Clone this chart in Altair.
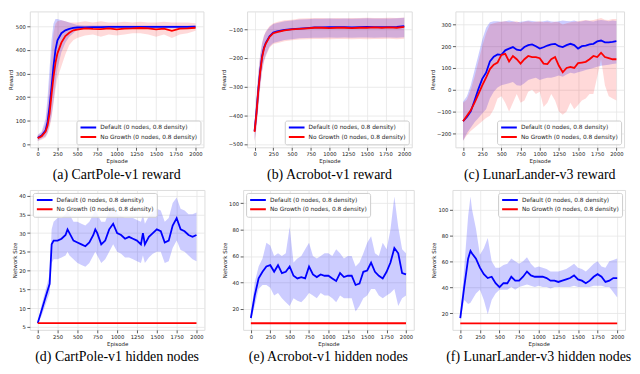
import altair as alt
import pandas as pd

BLUE = "#0000ff"
RED = "#ff0000"
S_DEF = "Default (0 nodes, 0.8 density)"
S_NG = "No Growth (0 nodes, 0.8 density)"

X_TICKS = [0, 250, 500, 750, 1000, 1250, 1500, 1750, 2000]

# ---------------- (a) CartPole-v1 reward ----------------
a_ep = [0, 50, 100, 125, 150, 175, 200, 225, 250, 300, 350, 400, 450, 500, 600, 700, 800,
        900, 1000, 1100, 1200, 1300, 1400, 1500, 1600, 1700, 1800, 1900, 2000]
a_def_mean = [28, 38, 60, 95, 160, 240, 330, 400, 440, 470, 482, 488, 492, 494, 495, 496, 496,
              497, 497, 497, 497, 497, 497, 497, 497, 497, 497, 497, 498]
a_def_lo = [15, 25, 35, 50, 80, 120, 180, 250, 320, 390, 430, 455, 470, 485, 488, 490, 490,
            490, 491, 491, 491, 491, 491, 491, 491, 491, 491, 492, 492]
a_def_hi = [40, 55, 110, 200, 320, 440, 510, 530, 530, 525, 520, 515, 510, 505, 503, 503, 503,
            503, 503, 503, 503, 503, 503, 503, 503, 503, 503, 503, 504]
a_ng_mean = [27, 35, 55, 80, 130, 210, 285, 345, 385, 430, 458, 472, 482, 485, 490, 488, 487,
             490, 486, 489, 490, 492, 490, 486, 489, 480, 489, 490, 493]
a_ng_lo = [15, 20, 30, 45, 70, 110, 170, 230, 280, 330, 380, 420, 440, 450, 460, 465, 455,
           465, 460, 465, 470, 470, 465, 455, 465, 450, 465, 470, 480]
a_ng_hi = [40, 50, 90, 160, 260, 380, 470, 510, 520, 525, 520, 515, 515, 515, 520, 515, 520,
           515, 515, 518, 515, 518, 515, 515, 518, 515, 515, 515, 512]

# ---------------- (b) Acrobot-v1 reward ----------------
b_ep = [0, 25, 50, 75, 100, 125, 150, 200, 250, 300, 400, 500, 600, 700, 800, 900, 1000,
        1100, 1200, 1300, 1400, 1500, 1600, 1700, 1800, 1900, 2000]
b_def_mean = [-455, -390, -310, -245, -195, -165, -148, -125, -112, -108, -102, -100, -98, -96,
              -94, -94, -93, -93, -93, -94, -93, -92, -93, -93, -93, -92, -89]
b_def_lo = [-490, -440, -370, -300, -245, -210, -190, -160, -148, -145, -138, -135, -132, -131,
            -130, -130, -129, -130, -129, -130, -129, -129, -130, -129, -129, -130, -128]
b_def_hi = [-425, -340, -255, -190, -150, -125, -110, -92, -82, -78, -72, -70, -66, -65, -64,
            -64, -63, -64, -63, -64, -63, -62, -63, -63, -63, -62, -60]
b_ng_mean = [-458, -395, -315, -250, -200, -168, -150, -127, -114, -110, -104, -101, -99, -97,
             -95, -95, -96, -95, -95, -96, -95, -95, -94, -95, -94, -95, -92]
b_ng_lo = [-494, -445, -375, -305, -250, -215, -195, -165, -152, -149, -142, -139, -136, -135,
           -134, -134, -135, -134, -134, -135, -134, -135, -134, -134, -133, -135, -133]
b_ng_hi = [-422, -337, -252, -187, -147, -122, -107, -89, -79, -75, -69, -67, -63, -62, -61,
           -61, -62, -61, -62, -61, -61, -60, -61, -61, -60, -61, -59]

# ---------------- (c) LunarLander-v3 reward ----------------
c_ep = [0, 50, 100, 150, 200, 250, 300, 350, 400, 450, 500, 550, 600, 650, 700, 750, 800, 850,
        900, 950, 1000, 1050, 1100, 1150, 1200, 1250, 1300, 1350, 1400, 1450, 1500, 1550, 1600,
        1650, 1700, 1750, 1800, 1850, 1900, 1950, 2000]
c_def_mean = [-145, -125, -100, -50, 3, 50, 78, 130, 152, 162, 160, 181, 189, 196, 184, 181, 196,
              205, 208, 200, 189, 195, 203, 208, 211, 200, 196, 205, 211, 205, 189, 200, 203,
              208, 211, 222, 226, 218, 218, 220, 223]
c_def_lo = [-235, -200, -175, -150, -130, -110, -90, -40, -10, 10, 20, 25, 30, 35, 20, 18, 30,
            45, 50, 55, 45, 50, 55, 55, 60, 65, 60, 70, 78, 75, 80, 85, 90, 95, 100, 105, 110,
            112, 115, 118, 120]
c_def_hi = [-55, -30, 20, 90, 160, 230, 285, 310, 315, 315, 312, 315, 318, 315, 310, 312, 315,
            318, 316, 314, 312, 315, 318, 314, 312, 315, 318, 316, 315, 318, 312, 315, 318, 316,
            314, 318, 320, 318, 315, 318, 316]
c_ng_mean = [-145, -120, -95, -60, -20, 20, 55, 95, 115, 125, 160, 165, 130, 155, 140, 120, 140,
             155, 150, 150, 145, 120, 118, 140, 150, 110, 80, 100, 105, 100, 122, 125, 128, 140,
             155, 150, 170, 150, 145, 140, 140]
c_ng_lo = [-235, -210, -190, -175, -160, -145, -130, -120, -90, -40, -30, -60, -100, -60, -20,
           -60, -50, -10, 0, -20, -10, -80, -60, -20, -50, -100, -115, -100, -60, -90, -70, -50,
           -40, -20, -20, 60, 140, 20, -30, -40, -50]
c_ng_hi = [-60, -45, 0, 60, 130, 200, 260, 300, 305, 310, 312, 315, 310, 312, 315, 308, 312, 315,
           310, 312, 315, 310, 312, 308, 312, 310, 300, 305, 310, 312, 315, 318, 320, 318, 320,
           325, 330, 322, 320, 325, 325]

# ---------------- (d) CartPole-v1 hidden nodes ----------------
d_ep = [0, 50, 100, 150, 175, 200, 250, 300, 350, 375, 400, 450, 500, 550, 600, 650, 700, 725,
        750, 800, 850, 900, 950, 1000, 1050, 1100, 1150, 1200, 1250, 1300, 1325, 1350, 1400,
        1450, 1500, 1550, 1600, 1650, 1700, 1750, 1800, 1850, 1900, 1950, 2000]
d_def_mean = [6, 9.5, 13, 16.5, 27, 28, 28, 28.5, 29.5, 31, 30, 28, 27.5, 27, 26.5, 27.5, 29.5,
              31, 30, 27, 28, 31, 32.5, 30, 29.5, 28.5, 29, 28.5, 28, 27, 30, 27, 29, 30, 31,
              30.5, 27.5, 28, 32, 34, 31, 30.5, 29.5, 29, 29.5]
d_def_lo = [5.8, 8, 11, 14, 22, 23, 23, 23.5, 24, 25, 24, 23, 22, 21.5, 21, 22, 24, 25, 24, 22,
            23, 25, 27, 25, 24.5, 23.5, 23.5, 23, 22.5, 22, 24, 22, 23.5, 24.5, 25, 25, 22,
            22.5, 26, 28, 25.5, 25, 24, 23, 22.5]
d_def_hi = [6.2, 11, 15, 19, 31, 33, 34, 34, 35, 36, 35, 33, 33, 32.5, 32, 33, 35, 36, 35, 33,
            33, 36, 37.5, 35, 34.5, 34, 34, 34, 33.5, 33, 35, 32.5, 34.5, 35.5, 36.5, 36, 33,
            34, 38, 39.5, 36.5, 36, 35, 35, 35.5]
d_ng_ep = [0, 2000]
d_ng_mean = [6, 6]

# ---------------- (e) Acrobot-v1 hidden nodes ----------------
e_ep = [0, 50, 100, 150, 200, 250, 300, 350, 400, 450, 500, 550, 600, 650, 700, 750, 800, 850,
        900, 950, 1000, 1050, 1100, 1150, 1200, 1250, 1300, 1350, 1400, 1450, 1500, 1550, 1600,
        1650, 1700, 1750, 1800, 1850, 1900, 1950, 2000]
e_def_mean = [13, 30, 43, 48, 52, 53, 48, 53, 47, 48, 52, 45, 43, 44, 43, 52, 46, 44, 46, 45,
              45, 43, 41, 47, 44, 45, 45, 38, 39, 48, 49, 55, 48, 45, 43, 48, 55, 66, 62, 47, 46]
e_def_lo = [11, 22, 35, 38, 38, 36, 30, 32, 28, 25, 22, 28, 26, 25, 28, 32, 30, 28, 32, 30, 30,
            28, 25, 30, 28, 28, 28, 18, 22, 28, 30, 35, 35, 30, 28, 30, 32, 35, 22, 28, 30]
e_def_hi = [15, 40, 52, 58, 70, 68, 60, 62, 60, 62, 82, 55, 58, 60, 65, 70, 60, 58, 60, 62, 62,
            60, 65, 62, 58, 60, 60, 52, 55, 62, 70, 75, 62, 60, 70, 65, 80, 105, 82, 65, 62]
e_ng_ep = [0, 2000]
e_ng_mean = [9, 9]

# ---------------- (f) LunarLander-v3 hidden nodes ----------------
f_ep = [0, 50, 100, 130, 150, 200, 250, 300, 350, 400, 450, 500, 550, 600, 650, 700, 750, 800,
        850, 900, 950, 1000, 1050, 1100, 1150, 1200, 1250, 1300, 1350, 1400, 1450, 1500, 1550,
        1600, 1650, 1700, 1750, 1800, 1850, 1900, 1950, 2000]
f_def_mean = [16, 40, 62, 68, 66, 62, 55, 50, 47, 48, 43, 40, 43, 43, 48, 45, 45, 48, 52, 49, 48,
              48, 48, 47, 45, 45, 44, 45, 46, 47, 49, 46, 45, 43, 45, 48, 50, 48, 44, 45, 47, 47]
f_def_lo = [14, 30, 27, 28, 30, 35, 38, 30, 19, 30, 35, 38, 38, 38, 40, 38, 40, 41, 42, 41, 40,
            41, 40, 40, 39, 40, 40, 40, 40, 40, 41, 40, 40, 40, 40, 41, 41, 41, 40, 40, 36, 32]
f_def_hi = [18, 55, 95, 110, 100, 85, 65, 70, 78, 60, 55, 55, 57, 58, 62, 60, 58, 60, 63, 58, 55,
            56, 55, 54, 52, 52, 52, 53, 54, 56, 58, 55, 54, 52, 55, 58, 60, 56, 55, 60, 61, 62]
f_ng_ep = [0, 2000]
f_ng_mean = [12, 12]

LAB = dict(labelFont="DejaVu Sans", labelFontSize=5.3, labelColor="#222222",
           titleFont="DejaVu Sans", titleFontSize=5.5, titleFontWeight="normal",
           titleColor="#222222", tickColor="#333333", tickSize=3, tickWidth=0.8,
           labelPadding=1.5, titlePadding=1.5, domain=False, grid=True,
           gridColor="#e6e6e6", gridWidth=0.8)


def frame(ep, mean, lo, hi, series):
    return pd.DataFrame({"episode": ep, "mean": mean, "lo": lo, "hi": hi, "series": series})


def panel(df_def, df_ng, ydomain, yticks, ytitle, caption, width, height, lorient, ng_band=True):
    xenc = alt.X("episode:Q", scale=alt.Scale(domain=[-100, 2100], nice=False, zero=False),
                 axis=alt.Axis(values=X_TICKS, format="d", title="Episode", **LAB))
    yscale = alt.Scale(domain=ydomain, nice=False, zero=False)
    yaxis = alt.Axis(values=yticks, format="d", title=ytitle, **LAB)
    layers = [
        alt.Chart(df_def).mark_area(color=BLUE, opacity=0.2).encode(
            x=xenc, y=alt.Y("lo:Q", scale=yscale, axis=yaxis), y2="hi:Q"),
    ]
    if ng_band:
        layers.append(alt.Chart(df_ng).mark_area(color=RED, opacity=0.15).encode(
            x=xenc, y=alt.Y("lo:Q", scale=yscale, axis=yaxis), y2="hi:Q"))
    both = pd.concat([df_def, df_ng], ignore_index=True)
    layers.append(alt.Chart(both).mark_line(strokeWidth=1.8).encode(
        x=xenc,
        y=alt.Y("mean:Q", scale=yscale, axis=yaxis),
        color=alt.Color("series:N", scale=alt.Scale(domain=[S_DEF, S_NG], range=[BLUE, RED]),
                        legend=alt.Legend(title=None, orient=lorient, offset=3,
                                          fillColor="rgba(255,255,255,0.85)",
                                          strokeColor="#cccccc", cornerRadius=2, padding=3,
                                          labelFontSize=5.9, labelFont="DejaVu Sans",
                                          labelColor="#222222", symbolType="stroke",
                                          symbolSize=250, symbolStrokeWidth=2, rowPadding=1.5,
                                          clipHeight=8, labelOffset=3)),
    ))
    return alt.layer(*layers).properties(
        width=width, height=height,
        title=alt.TitleParams(caption, orient="bottom", anchor="middle", frame="group",
                              font="Liberation Serif", fontSize=14, fontWeight="normal",
                              color="#000000", offset=4),
    )


pa = panel(frame(a_ep, a_def_mean, a_def_lo, a_def_hi, S_DEF),
           frame(a_ep, a_ng_mean, a_ng_lo, a_ng_hi, S_NG),
           [-12, 562], [0, 100, 200, 300, 400, 500], "Reward", "(a) CartPole-v1 reward",
           175, 137, "bottom-right")
pb = panel(frame(b_ep, b_def_mean, b_def_lo, b_def_hi, S_DEF),
           frame(b_ep, b_ng_mean, b_ng_lo, b_ng_hi, S_NG),
           [-512, -38], [-500, -400, -300, -200, -100], "Reward", "(b) Acrobot-v1  reward",
           166, 137, "bottom-right")
pc = panel(frame(c_ep, c_def_mean, c_def_lo, c_def_hi, S_DEF),
           frame(c_ep, c_ng_mean, c_ng_lo, c_ng_hi, S_NG),
           [-265, 360], [-200, -100, 0, 100, 200, 300], "Reward", "(c) LunarLander-v3 reward",
           170, 137, "bottom-right")
pd_ = panel(frame(d_ep, d_def_mean, d_def_lo, d_def_hi, S_DEF),
            frame(d_ng_ep, d_ng_mean, d_ng_mean, d_ng_mean, S_NG),
            [4.2, 41.5], [5, 10, 15, 20, 25, 30, 35, 40], "Network Size",
            "(d) CartPole-v1 hidden nodes", 176, 141, "top-left", ng_band=False)
pe = panel(frame(e_ep, e_def_mean, e_def_lo, e_def_hi, S_DEF),
           frame(e_ng_ep, e_ng_mean, e_ng_mean, e_ng_mean, S_NG),
           [4, 110], [20, 40, 60, 80, 100], "Network Size",
           "(e) Acrobot-v1 hidden nodes", 172, 141, "top-left", ng_band=False)
pf = panel(frame(f_ep, f_def_mean, f_def_lo, f_def_hi, S_DEF),
           frame(f_ng_ep, f_ng_mean, f_ng_mean, f_ng_mean, S_NG),
           [7, 115], [20, 40, 60, 80, 100], "Network Size",
           "(f) LunarLander-v3 hidden nodes", 174, 141, "top-right", ng_band=False)

row1 = alt.hconcat(pa, pb, pc, spacing=16).resolve_scale(color="independent").resolve_legend(color="independent")
row2 = alt.hconcat(pd_, pe, pf, spacing=16).resolve_scale(color="independent").resolve_legend(color="independent")

chart = alt.vconcat(row1, row2, spacing=6).resolve_scale(color="independent").resolve_legend(
    color="independent").properties(
    padding={"left": 0, "top": 1, "right": 0, "bottom": 0}
).configure_view(stroke="#3a3a3a", strokeWidth=0.9).configure(background="white")

chart.save("out.html", embed_options={"renderer": "svg", "actions": False})
